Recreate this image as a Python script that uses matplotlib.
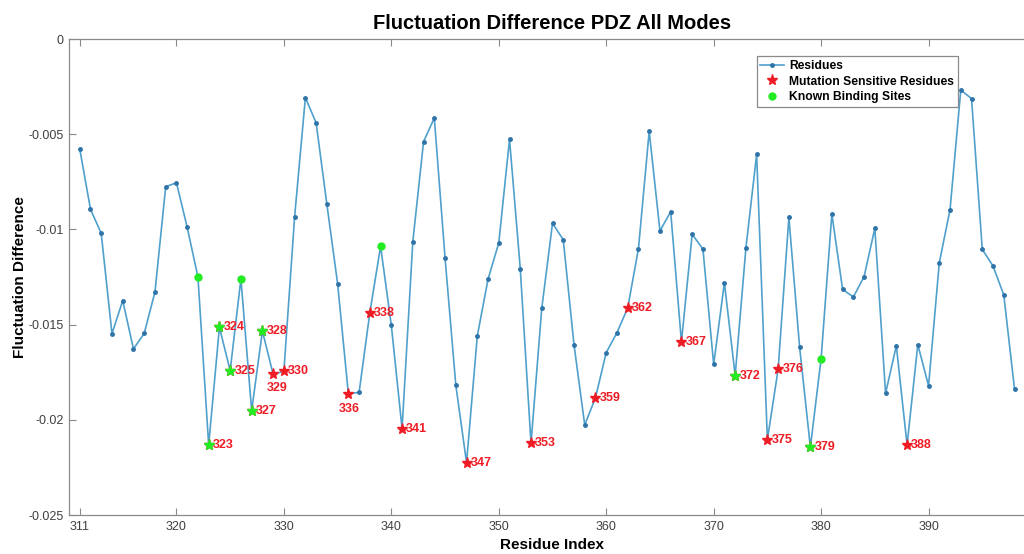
#!/usr/bin/env python

import matplotlib
matplotlib.use('Agg')
from matplotlib import pyplot as plt
from matplotlib.lines import Line2D

plt.rcParams['font.family'] = ['Liberation Sans', 'DejaVu Sans']
plt.rcParams['axes.unicode_minus'] = False

# residue index and fluctuation difference
residues = list(range(311, 399))
fluct_diff = [
    -0.00578, -0.00894, -0.01021, -0.01548, -0.01374, -0.01628, -0.01546, -0.01329,
    -0.00776, -0.00755, -0.00989, -0.01250, -0.02132, -0.01514, -0.01742, -0.01260,
    -0.01952, -0.01534, -0.01761, -0.01745, -0.00933, -0.00308, -0.00440, -0.00868,
    -0.01285, -0.01863, -0.01856, -0.01437, -0.01089, -0.01504, -0.02047, -0.01064,
    -0.00539, -0.00415, -0.01150, -0.01817, -0.02225, -0.01560, -0.01262, -0.01071,
    -0.00527, -0.01206, -0.02124, -0.01415, -0.00968, -0.01054, -0.01605, -0.02027,
    -0.01884, -0.01647, -0.01542, -0.01413, -0.01101, -0.00485, -0.01008, -0.00907,
    -0.01591, -0.01026, -0.01103, -0.01709, -0.01280, -0.01768, -0.01098, -0.00606,
    -0.02104, -0.01735, -0.00937, -0.01619, -0.02144, -0.01679, -0.00919, -0.01315,
    -0.01355, -0.01248, -0.00994, -0.01861, -0.01611, -0.02132, -0.01605, -0.01821,
    -0.01175, -0.00896, -0.00268, -0.00313, -0.01105, -0.01192, -0.01344, -0.01838,
]

mutation_sensitive = [323, 324, 325, 327, 328, 329, 330, 336, 338, 341, 347,
                      353, 359, 362, 367, 372, 375, 376, 379, 388]
binding_sites = [322, 323, 324, 325, 326, 327, 328, 339, 372, 379, 380]

x_ticks = [311, 320, 330, 340, 350, 360, 370, 380, 390]
y_ticks = [0, -0.005, -0.01, -0.015, -0.02, -0.025]
y_tick_labels = ['0', '-0.005', '-0.01', '-0.015', '-0.02', '-0.025']

# these two labels sit under their star instead of beside it
labels_below = {329: (3, -10), 336: (1, -11)}

line_color = '#4fa0cc'
dot_color = '#2f74a8'
red = '#ee1c25'
green = '#22ec22'
grey = '#8a8a8a'

value_of = dict(zip(residues, fluct_diff))

fig = plt.figure(figsize=(10.24, 5.54), dpi=100)
# right edge of the axes runs past the figure, as in the cropped original
ax = fig.add_axes([69 / 1024, 39 / 554, 967 / 1024, 476 / 554])

ax.plot(residues, fluct_diff, color=line_color, linewidth=1.2,
        marker='.', markersize=5, markerfacecolor=dot_color,
        markeredgecolor=dot_color, zorder=2)

mut_y = [value_of[r] for r in mutation_sensitive]
ax.plot(mutation_sensitive, mut_y, linestyle='none', marker='*',
        markersize=8, color=red, zorder=3)

for r in binding_sites:
    marker = '*' if r in mutation_sensitive else 'o'
    size = 8 if marker == '*' else 5
    ax.plot(r, value_of[r], linestyle='none', marker=marker, markersize=size,
            color=green, zorder=4)

for r in mutation_sensitive:
    if r in labels_below:
        ax.annotate(str(r), (r, value_of[r]), xytext=labels_below[r],
                    textcoords='offset points', ha='center', va='center',
                    color=red, fontsize=9, fontweight='bold', zorder=5)
    else:
        ax.annotate(str(r), (r, value_of[r]), xytext=(3, 0),
                    textcoords='offset points', ha='left', va='center',
                    color=red, fontsize=9, fontweight='bold', zorder=5)

ax.set_xlim(310, 400)
ax.set_ylim(-0.025, 0)
ax.set_xticks(x_ticks)
ax.set_yticks(y_ticks)
ax.set_yticklabels(y_tick_labels)
ax.tick_params(direction='in', length=5, width=0.8, color=grey,
               labelcolor='#404040', labelsize=9, top=True, right=True)
ax.tick_params(axis='y', pad=4)
ax.tick_params(axis='x', pad=4)
for spine in ax.spines.values():
    spine.set_color(grey)
    spine.set_linewidth(0.9)

ax.set_title('Fluctuation Difference PDZ All Modes', fontsize=14.5,
             fontweight='bold', pad=7)
ax.set_xlabel('Residue Index', fontsize=11, fontweight='bold', labelpad=4)
ax.set_ylabel('Fluctuation Difference', fontsize=11, fontweight='bold',
              labelpad=1)

handles = [
    Line2D([], [], color=line_color, linewidth=1.2, marker='.', markersize=5,
           markerfacecolor=dot_color, markeredgecolor=dot_color),
    Line2D([], [], color=red, linestyle='none', marker='*', markersize=8),
    Line2D([], [], color=green, linestyle='none', marker='o', markersize=5),
]
leg = ax.legend(handles, ['Residues', 'Mutation Sensitive Residues',
                          'Known Binding Sites'],
                loc='upper left', bbox_to_anchor=(0.711, 0.964),
                borderaxespad=0, frameon=True, fancybox=False,
                edgecolor=grey, framealpha=1, handlelength=2.0,
                handletextpad=0.4, labelspacing=0.32, borderpad=0.3,
                prop={'weight': 'bold', 'size': 8.7})
leg.get_frame().set_linewidth(0.9)

plt.savefig('out.png', dpi=100)
